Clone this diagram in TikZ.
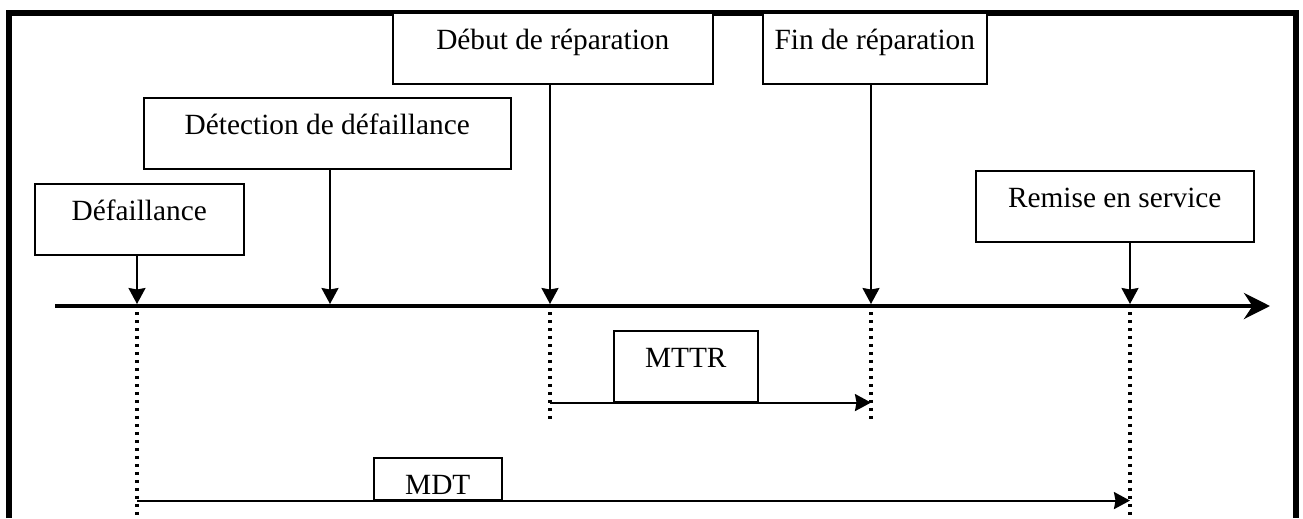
\documentclass[tikz,border=0pt]{standalone}
\usepackage{fontspec}
\setmainfont{Liberation Serif}
\usetikzlibrary{arrows.meta}

\tikzset{
	evbox/.style={draw, fill=white, line width=0.9pt, inner sep=0pt, anchor=north west, text height=0.73cm, text depth=0.69cm, font=\fontsize{16.7}{20}\selectfont},
	evarrow/.style={line width=1.2pt, -{Stealth[length=0.32cm, width=0.34cm, inset=0.03cm]}},
	dotline/.style={line width=2.2pt, dash pattern={on 0.06cm off 0.1cm}},
}

\begin{document}
\begin{tikzpicture}[x=0.02cm, y=-0.02cm]
	\useasboundingbox (0, 0) rectangle (1303, 518);
	% Frame and time axis:
	\draw[line width=3.4pt, line join=miter] (9, 518) -- (9, 13) -- (1296, 13) -- (1296, 518);
	\coordinate (axstart) at (55, 306);
	\coordinate (axend) at (1270, 306);
	\draw[line width=2.8pt, -{Stealth[length=0.52cm, width=0.52cm, inset=0.17cm]}] (axstart) -- (axend);
	% Events on the axis:
	\coordinate (tdef) at (137, 304);
	\coordinate (tdet) at (330, 304);
	\coordinate (tdeb) at (550, 304);
	\coordinate (tfin) at (871, 304);
	\coordinate (trem) at (1130, 304);
	\coordinate (bdef) at (137, 518);
	\coordinate (bdeb) at (550, 422);
	\coordinate (bfin) at (871, 422);
	\coordinate (brem) at (1130, 518);
	% Boxes:
	\node[evbox, minimum width=4.18cm] (defbox) at (34, 183){Défaillance};
	\node[evbox, minimum width=7.34cm] (detbox) at (143, 97){Détection de défaillance};
	\node[evbox, minimum width=6.4cm] (debbox) at (392, 12){Début de réparation};
	\node[evbox, minimum width=4.48cm] (finbox) at (762, 12){Fin de réparation};
	\node[evbox, minimum width=5.56cm] (rembox) at (975, 170){Remise en service};
	\node[evbox, minimum width=2.88cm] (mttr) at (613, 330){MTTR};
	\node[evbox, minimum width=2.56cm, text depth=0.11cm] (mdt) at (373, 457){MDT};
	% Arrows from the boxes down to the axis:
	\draw[evarrow] (tdef |- defbox.south) -- (tdef);
	\draw[evarrow] (tdet |- detbox.south) -- (tdet);
	\draw[evarrow] (tdeb |- debbox.south) -- (tdeb);
	\draw[evarrow] (tfin |- finbox.south) -- (tfin);
	\draw[evarrow] (trem |- rembox.south) -- (trem);
	% Dotted marks and durations:
	\draw[dotline] (tdef) -- (bdef);
	\draw[dotline] (tdeb) -- (bdeb);
	\draw[dotline] (tfin) -- (bfin);
	\draw[dotline] (trem) -- (brem);
	\draw[evarrow] (tdeb |- mttr.south) -- (tfin |- mttr.south);
	\draw[evarrow] (tdef |- mdt.south) -- (trem |- mdt.south);
\end{tikzpicture}
\end{document}
